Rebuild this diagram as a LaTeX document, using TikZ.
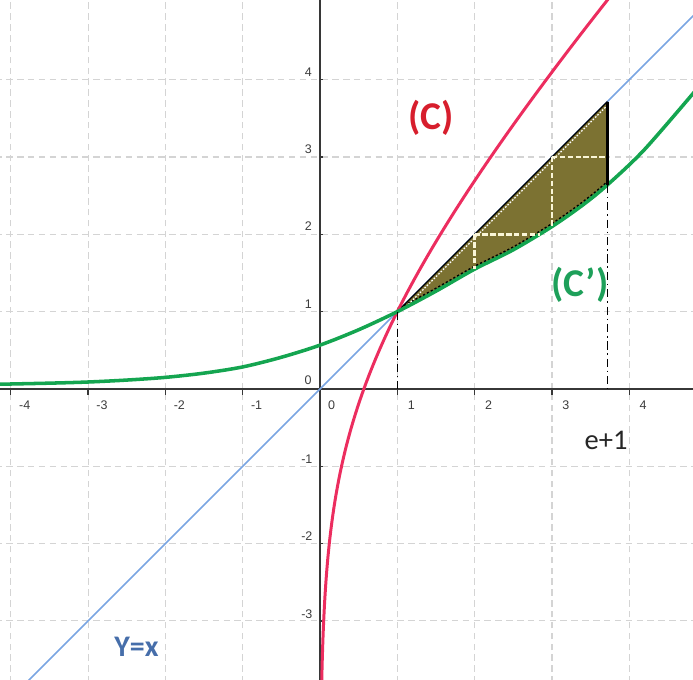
\documentclass[tikz,border=0pt]{standalone}
\usepackage{fontspec}
\setmainfont{Carlito}
\newfontfamily\ticksf{Liberation Sans}
\definecolor{gridc}{RGB}{212,212,212}
\definecolor{axisc}{RGB}{55,55,55}
\definecolor{bluec}{RGB}{122,165,226}
\definecolor{redc}{RGB}{236,45,95}
\definecolor{greenc}{RGB}{20,165,80}
\definecolor{olivec}{RGB}{124,114,50}
\definecolor{creamc}{RGB}{250,246,215}
\definecolor{labc}{RGB}{60,60,60}
\definecolor{ctext}{RGB}{215,30,45}
\definecolor{cptext}{RGB}{30,160,90}
\definecolor{ytext}{RGB}{70,110,170}
\begin{document}
\begin{tikzpicture}[x=1cm,y=1cm,
  gridline/.style={draw=gridc, line width=0.45pt, dash pattern=on 2.4pt off 1.6pt},
  axisline/.style={draw=axisc, line width=0.55pt},
  tickmark/.style={draw=axisc, line width=0.5pt},
  ticklab/.style={font=\ticksf\fontsize{4.6}{5}\selectfont, text=labc, inner sep=0pt},
  curvelab/.style={font=\bfseries\fontsize{14.5}{15}\selectfont, inner sep=0pt},
  stairline/.style={draw=creamc, line width=0.85pt, dash pattern=on 2pt off 0.9pt},
  dashdotline/.style={draw=black, line width=0.5pt, dash pattern=on 3pt off 1.4pt on 0.6pt off 1.4pt}]
\useasboundingbox (-4.140,-3.765) rectangle (4.825,5.032);
\clip (-4.140,-3.765) rectangle (4.825,5.032);
% grid
\foreach \k in {-4,...,4} \draw[gridline] (\k,-3.8) -- (\k,5.1);
\foreach \k in {-3,...,4} \draw[gridline] (-4.2,\k) -- (4.9,\k);
% axes
\coordinate (XL) at (-4.2,0);
\coordinate (XR) at (4.9,0);
\coordinate (YB) at (0,-3.8);
\coordinate (YT) at (0,5.1);
\draw[axisline] (XL) -- (XR);
\draw[axisline] (YB) -- (YT);
\foreach \k in {-4,...,4} \draw[tickmark] (\k,0) -- (\k,-0.08);
\foreach \k in {-3,...,4} \draw[tickmark] (0,\k) -- (0.04,\k);
% tick labels
\foreach \k in {-4,-3,-2,-1,1,2,3,4} \node[ticklab] (xl\k) at (\k+0.18,-0.21) {\k};
\node[ticklab] (x0) at (0.15,-0.21) {0};
\node[ticklab] (o0) at (-0.155,0.107) {0};
\foreach \k in {1,2,3,4} \node[ticklab] (yl\k) at (-0.15,\k+0.1) {\k};
\foreach \k in {-1,-2,-3} \node[ticklab] (yl\k) at (-0.17,\k+0.09) {\k};
% line y=x
\coordinate (L1) at (-3.9,-3.9);
\coordinate (L2) at (4.95,4.95);
\draw[draw=bluec, line width=0.55pt] (L1) -- (L2);
% key points
\coordinate (A) at (1,1);
\coordinate (B) at (3.718,3.718);
\coordinate (Bg) at (3.718,2.64);
\coordinate (Ad) at (1,0);
\coordinate (Bd) at (3.718,0);
% shaded region (above green curve, below y=x)
\begin{scope}
\clip plot[smooth] coordinates {(-4.2,0.06) (-3.5,0.075) (-3,0.09) (-2.5,0.115) (-2,0.15) (-1.5,0.205) (-1,0.285) (-0.5,0.41) (0,0.567) (0.5,0.766) (1,1) (1.5,1.265) (2,1.55) (2.5,1.8) (3,2.1) (3.4,2.38) (3.718,2.64) (4.2,3.1) (4.9,3.91)} -- (4.9,5.2) -- (-4.2,5.2) -- cycle;
\fill[olivec] (A) -- (B) -- (Bd) -- (Ad) -- cycle;
\clip (1,0) rectangle (3.718,5);
\draw[black, line width=2.4pt, dash pattern=on 0.8pt off 0.8pt] plot[smooth] coordinates {(-4.2,0.06) (-3.5,0.075) (-3,0.09) (-2.5,0.115) (-2,0.15) (-1.5,0.205) (-1,0.285) (-0.5,0.41) (0,0.567) (0.5,0.766) (1,1) (1.5,1.265) (2,1.55) (2.5,1.8) (3,2.1) (3.4,2.38) (3.718,2.64) (4.2,3.1) (4.9,3.91)};
\end{scope}
\draw[black, line width=0.5pt] (A) -- (B);
\draw[white, line width=0.45pt, dash pattern=on 0.6pt off 0.6pt] ([shift={(0.025,-0.025)}]A) -- ([shift={(0.025,-0.025)}]B);
% red curve (C)
\draw[redc, line width=1.1pt] plot[domain=-3.95:1.32, samples=160, smooth] ({exp(\x)},{exp(\x)+\x});
% green curve (C')
\draw[greenc, line width=1.3pt] plot[smooth] coordinates {(-4.2,0.06) (-3.5,0.075) (-3,0.09) (-2.5,0.115) (-2,0.15) (-1.5,0.205) (-1,0.285) (-0.5,0.41) (0,0.567) (0.5,0.766) (1,1) (1.5,1.265) (2,1.55) (2.5,1.8) (3,2.1) (3.4,2.38) (3.718,2.64) (4.2,3.1) (4.9,3.91)};
% vertical boundary
\draw[black, line width=0.9pt] (B) -- (Bg);
% staircase
\coordinate (S1) at (2,2);
\coordinate (S1b) at (2,1.55);
\coordinate (S1r) at (2.85,2);
\coordinate (S2) at (3,3);
\coordinate (S2b) at (3,2.1);
\coordinate (S2r) at (3.69,3);
\draw[stairline] (S1) -- (S1b);
\draw[stairline] (S1) -- (S1r);
\draw[stairline] (S2) -- (S2b);
\draw[stairline] (S2) -- (S2r);
% dash-dot verticals
\draw[dashdotline] (A) -- (Ad);
\draw[dashdotline] (Bg) -- (Bd);
% labels
\node[curvelab, text=ctext] (lc) at (1.436,3.506) {(C)};
\node[curvelab, text=cptext] (lcp) at (3.364,1.345) {(C’)};
\node[font=\fontsize{10.5}{12}\selectfont, text=black!85, inner sep=0pt] (le) at (3.70,-0.66) {e+1};
\node[font=\bfseries\fontsize{11}{12}\selectfont, text=ytext, inner sep=0pt] (ly) at (-2.374,-3.331) {Y=x};
\end{tikzpicture}
\end{document}
